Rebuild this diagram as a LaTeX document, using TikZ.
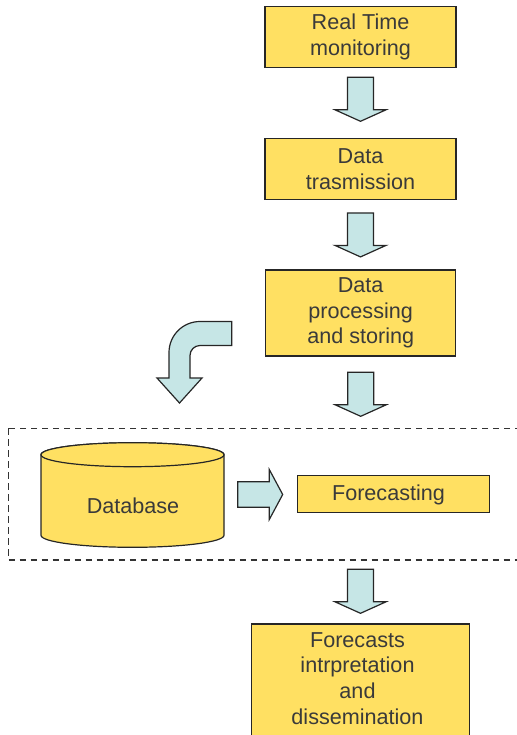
\documentclass[tikz,border=0pt]{standalone}
\usepackage{fontspec}
\setmainfont{Liberation Sans}
\usepackage {tikz}
\usetikzlibrary {calc}
\definecolor {boxyellow}{RGB}{255,224,98}
\definecolor {arrowcyan}{RGB}{198,230,230}
\definecolor {textgray}{RGB}{58,58,58}

% block arrow pointing down, #1 = middle of its top edge
\newcommand{\downblock}[1]{\draw[blockarrow] #1 ++(-13,0) -- ++(0,32.5) -- ++(-12.5,0)
  -- ++(25.5,11.5) -- ++(25.5,-11.5) -- ++(-12.5,0) -- ++(0,-32.5) -- cycle;}

\begin{document}
\begin{tikzpicture}[x=0.5pt,y=-0.5pt]
  \tikzstyle{stage}=[rectangle, draw=black!85, fill=boxyellow, line width=0.6pt,
text=textgray, align=center, inner sep=0pt, font=\fontsize{10.8}{12.9}\selectfont]
  \tikzstyle{blockarrow}=[draw=black!85, fill=arrowcyan, line width=0.6pt, line join=miter]
  \useasboundingbox (0,0) rectangle (516,735);

  \node[stage, minimum width=95.5pt, minimum height=30.5pt] (B_1) at (360.5,37.2) {Real Time\\monitoring};
  \node[stage, minimum width=95.5pt, minimum height=30.5pt] (B_2) at (360.5,168.8) {Data\\trasmission};
  \node[stage, minimum width=95pt, minimum height=43pt] (B_3) at (360.7,313) {Data\\processing\\and storing};
  \node[stage, minimum width=96pt, minimum height=18.3pt] (F) at (393.3,494) {};
  \node[text=textgray, font=\fontsize{10.8}{12.9}\selectfont] (F_t) at (388.5,494.5) {Forecasting};
  \node[stage, minimum width=108.8pt, minimum height=62pt, anchor=north] (B_4) at (360.5,623.3) {};
  \node[text=textgray, align=center, font=\fontsize{10.8}{12.9}\selectfont] (B_4t) at (357.5,678.5)
    {Forecasts\\intrpretation\\and\\dissemination};

  % database cylinder
  \draw[stage] (41,454.7) -- (41,535.3) arc[start angle=180, end angle=0, x radius=91.5, y radius=12]
    -- (224,454.7) arc[start angle=0, end angle=-180, x radius=91.5, y radius=12] -- cycle;
  \draw[stage] (132.5,454.7) ellipse [x radius=91.5, y radius=12];
  \node[text=textgray, font=\fontsize{10.8}{12.9}\selectfont] (D) at (133,506) {Database};
  \coordinate (D_r) at (224,494.5);

  % group frame
  \draw[black!80, dash pattern=on 3.3pt off 2.2pt, line width=0.6pt] (8.3,428.3) rectangle (540,560);
  \coordinate (G) at (360.5,560);

  \downblock{($(B_1.south)+(0,9)$)}
  \downblock{($(B_2.south)+(0,13)$)}
  \downblock{($(B_3.south)+(0,15.7)$)}
  \downblock{($(G)+(0,9.3)$)}

  \draw[blockarrow] ($(D_r)+(13.7,-12.8)$) -- ++(31.6,0) -- ++(0,-12.2) -- ++(13.4,25)
    -- ++(-13.4,25) -- ++(0,-12.2) -- ++(-31.6,0) -- cycle;

  % bent arrow towards the database
  \draw[blockarrow] (231.7,321.5) -- (200,321.5) arc[start angle=270, end angle=180, radius=31]
    -- (169,378) -- (157,378) -- (179.5,403) -- (202,378) -- (190,378) -- (190,355.5)
    arc[start angle=180, end angle=270, radius=10] -- (231.7,345.5) -- cycle;
\end{tikzpicture}
\end{document}
